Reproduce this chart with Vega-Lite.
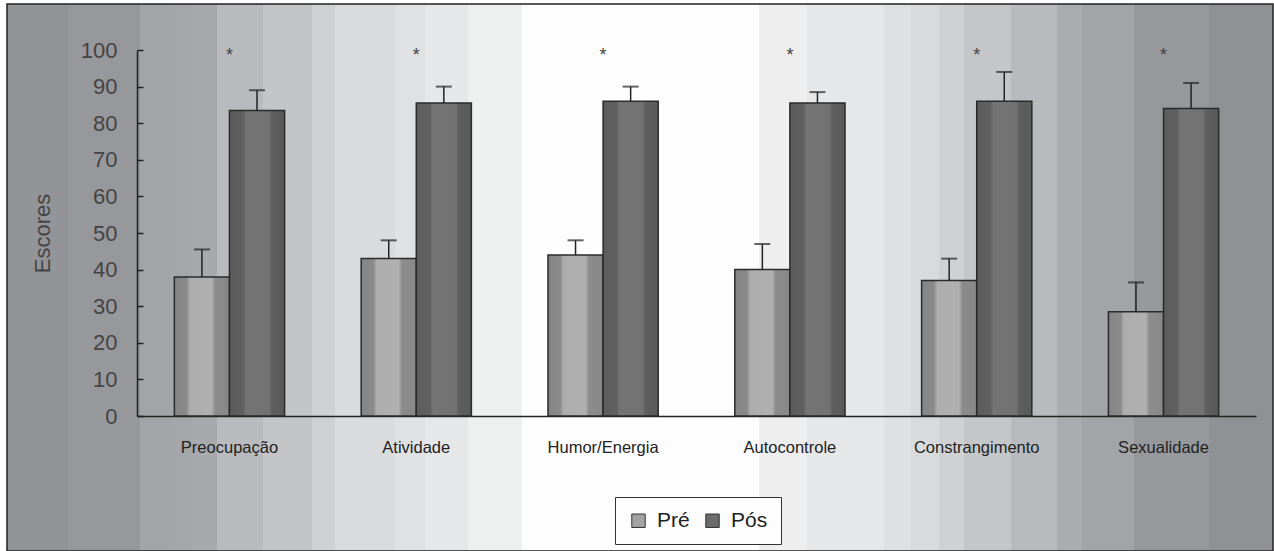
{
  "$schema": "https://vega.github.io/schema/vega-lite/v6.json",
  "width": 1266,
  "height": 547,
  "autosize": {"type": "none"},
  "padding": {"left": 7, "top": 4, "right": 1, "bottom": 0},
  "background": "#ffffff",
  "config": {
    "font": "Liberation Sans",
    "view": {
      "stroke": "#222222",
      "strokeWidth": 1.5,
      "fill": {
        "gradient": "linear", "x1": 0, "x2": 1, "y1": 0, "y2": 0,
        "stops": [
          {"offset": 0, "color": "#939498"}, {"offset": 0.0481, "color": "#939498"},
          {"offset": 0.0482, "color": "#97989b"}, {"offset": 0.1050, "color": "#97989b"},
          {"offset": 0.1051, "color": "#a3a4a7"}, {"offset": 0.1287, "color": "#a3a4a7"},
          {"offset": 0.1288, "color": "#a5a6a9"}, {"offset": 0.1460, "color": "#a5a6a9"},
          {"offset": 0.1461, "color": "#a8a9ac"}, {"offset": 0.1657, "color": "#a8a9ac"},
          {"offset": 0.1658, "color": "#b9babd"}, {"offset": 0.2021, "color": "#b9babd"},
          {"offset": 0.2022, "color": "#c4c5c7"}, {"offset": 0.2407, "color": "#c4c5c7"},
          {"offset": 0.2408, "color": "#cfd0d2"}, {"offset": 0.2589, "color": "#cfd0d2"},
          {"offset": 0.2590, "color": "#dadbdd"}, {"offset": 0.3062, "color": "#dadbdd"},
          {"offset": 0.3063, "color": "#e0e1e3"}, {"offset": 0.3299, "color": "#e0e1e3"},
          {"offset": 0.3300, "color": "#e6e7e8"}, {"offset": 0.3639, "color": "#e6e7e8"},
          {"offset": 0.3640, "color": "#eef0ef"}, {"offset": 0.4065, "color": "#eef0ef"},
          {"offset": 0.4066, "color": "#fdfdfd"}, {"offset": 0.5943, "color": "#fdfdfd"},
          {"offset": 0.5944, "color": "#eeeeee"}, {"offset": 0.6322, "color": "#eeeeee"},
          {"offset": 0.6323, "color": "#e6e7e8"}, {"offset": 0.6930, "color": "#e6e7e8"},
          {"offset": 0.6931, "color": "#dfe0e2"}, {"offset": 0.7143, "color": "#dfe0e2"},
          {"offset": 0.7144, "color": "#d9dadc"}, {"offset": 0.7364, "color": "#d9dadc"},
          {"offset": 0.7365, "color": "#d0d1d3"}, {"offset": 0.7561, "color": "#d0d1d3"},
          {"offset": 0.7562, "color": "#c5c6c8"}, {"offset": 0.7932, "color": "#c5c6c8"},
          {"offset": 0.7933, "color": "#b9babd"}, {"offset": 0.8295, "color": "#b9babd"},
          {"offset": 0.8296, "color": "#abacaf"}, {"offset": 0.8492, "color": "#abacaf"},
          {"offset": 0.8493, "color": "#a3a4a7"}, {"offset": 0.8903, "color": "#a3a4a7"},
          {"offset": 0.8904, "color": "#97989c"}, {"offset": 0.9495, "color": "#97989c"},
          {"offset": 0.9496, "color": "#909195"}, {"offset": 1, "color": "#909195"}
        ]
      }
    }
  },
  "data": {
    "values": [
      {"categoria": "Preocupação", "fase": "Pré", "media": 38, "limite": 45.5},
      {"categoria": "Preocupação", "fase": "Pós", "media": 83.5, "limite": 89},
      {"categoria": "Atividade", "fase": "Pré", "media": 43, "limite": 48},
      {"categoria": "Atividade", "fase": "Pós", "media": 85.5, "limite": 90},
      {"categoria": "Humor/Energia", "fase": "Pré", "media": 44, "limite": 48},
      {"categoria": "Humor/Energia", "fase": "Pós", "media": 86, "limite": 90},
      {"categoria": "Autocontrole", "fase": "Pré", "media": 40, "limite": 47},
      {"categoria": "Autocontrole", "fase": "Pós", "media": 85.5, "limite": 88.5},
      {"categoria": "Constrangimento", "fase": "Pré", "media": 37, "limite": 43},
      {"categoria": "Constrangimento", "fase": "Pós", "media": 86, "limite": 94},
      {"categoria": "Sexualidade", "fase": "Pré", "media": 28.5, "limite": 36.5},
      {"categoria": "Sexualidade", "fase": "Pós", "media": 84, "limite": 91}
    ]
  },
  "encoding": {
    "x": {
      "field": "categoria", "type": "nominal", "sort": null,
      "scale": {"range": [130, 1249], "paddingInner": 0.41, "paddingOuter": 0.2},
      "axis": {
        "title": null, "orient": "bottom", "offset": -135,
        "domainColor": "#222222", "domainWidth": 1.5, "ticks": false,
        "labelAngle": 0, "labelFontSize": 16.5, "labelColor": "#222222", "labelPadding": 23
      }
    }
  },
  "layer": [
    {
      "mark": {"type": "bar"},
      "encoding": {
        "xOffset": {"field": "fase", "type": "nominal", "scale": {"domain": ["Pré", "Pós"], "paddingInner": 0, "paddingOuter": 0}},
        "y": {
          "field": "media", "type": "quantitative",
          "scale": {"domain": [0, 100], "range": [412, 46]},
          "axis": {
            "title": "Escores", "values": [0, 10, 20, 30, 40, 50, 60, 70, 80, 90, 100], "grid": false,
            "offset": -130, "domainColor": "#222222", "domainWidth": 1.5,
            "tickColor": "#222222", "tickWidth": 1.5, "tickSize": -6,
            "labelFontSize": 22, "labelColor": "#444444", "labelPadding": 26,
            "titleFontSize": 22, "titleColor": "#444444", "titleFontWeight": "normal", "titlePadding": 26
          }
        },
        "color": {
          "field": "fase", "type": "nominal",
          "scale": {"domain": ["Pré", "Pós"], "range": ["#a3a3a3", "#6b6b6b"]},
          "legend": {
            "title": null, "orient": "none", "legendX": 608, "legendY": 493, "direction": "horizontal",
            "symbolType": "square", "symbolSize": 180, "symbolStrokeColor": "#333333", "symbolStrokeWidth": 1,
            "labelFontSize": 21, "labelColor": "#222222", "labelOffset": 8, "columnPadding": 12,
            "strokeColor": "#333333", "padding": 13, "fillColor": "#fdfdfd"
          }
        }
      }
    },
    {
      "transform": [{"filter": "datum.fase === 'Pré'"}],
      "mark": {
        "type": "bar", "stroke": "#2a2a2a", "strokeWidth": 1.5,
        "fill": {
          "gradient": "linear", "x1": 0, "x2": 1, "y1": 0, "y2": 0,
          "stops": [
            {"offset": 0, "color": "#858585"}, {"offset": 0.22, "color": "#8a8a8a"},
            {"offset": 0.28, "color": "#adadad"}, {"offset": 0.68, "color": "#b0b0b0"},
            {"offset": 0.74, "color": "#8c8c8c"}, {"offset": 1, "color": "#888888"}
          ]
        }
      },
      "encoding": {
        "xOffset": {"field": "fase", "type": "nominal"},
        "y": {"field": "media", "type": "quantitative"}
      }
    },
    {
      "transform": [{"filter": "datum.fase === 'Pós'"}],
      "mark": {
        "type": "bar", "stroke": "#2a2a2a", "strokeWidth": 1.5,
        "fill": {
          "gradient": "linear", "x1": 0, "x2": 1, "y1": 0, "y2": 0,
          "stops": [
            {"offset": 0, "color": "#5c5c5c"}, {"offset": 0.25, "color": "#606060"},
            {"offset": 0.3, "color": "#747474"}, {"offset": 0.72, "color": "#727272"},
            {"offset": 0.77, "color": "#5e5e5e"}, {"offset": 1, "color": "#5a5a5a"}
          ]
        }
      },
      "encoding": {
        "xOffset": {"field": "fase", "type": "nominal"},
        "y": {"field": "media", "type": "quantitative"}
      }
    },
    {
      "mark": {"type": "rule", "color": "#222222", "strokeWidth": 1.5},
      "encoding": {
        "xOffset": {"field": "fase", "type": "nominal"},
        "y": {"field": "media", "type": "quantitative"},
        "y2": {"field": "limite"}
      }
    },
    {
      "mark": {"type": "tick", "color": "#222222", "thickness": 2, "size": 16},
      "encoding": {
        "xOffset": {"field": "fase", "type": "nominal"},
        "y": {"field": "limite", "type": "quantitative"}
      }
    },
    {
      "transform": [{"filter": "datum.fase === 'Pré'"}],
      "mark": {"type": "text", "text": "*", "fontSize": 18, "color": "#444444", "baseline": "middle"},
      "encoding": {
        "y": {"datum": 98.3, "type": "quantitative"}
      }
    }
  ]
}
